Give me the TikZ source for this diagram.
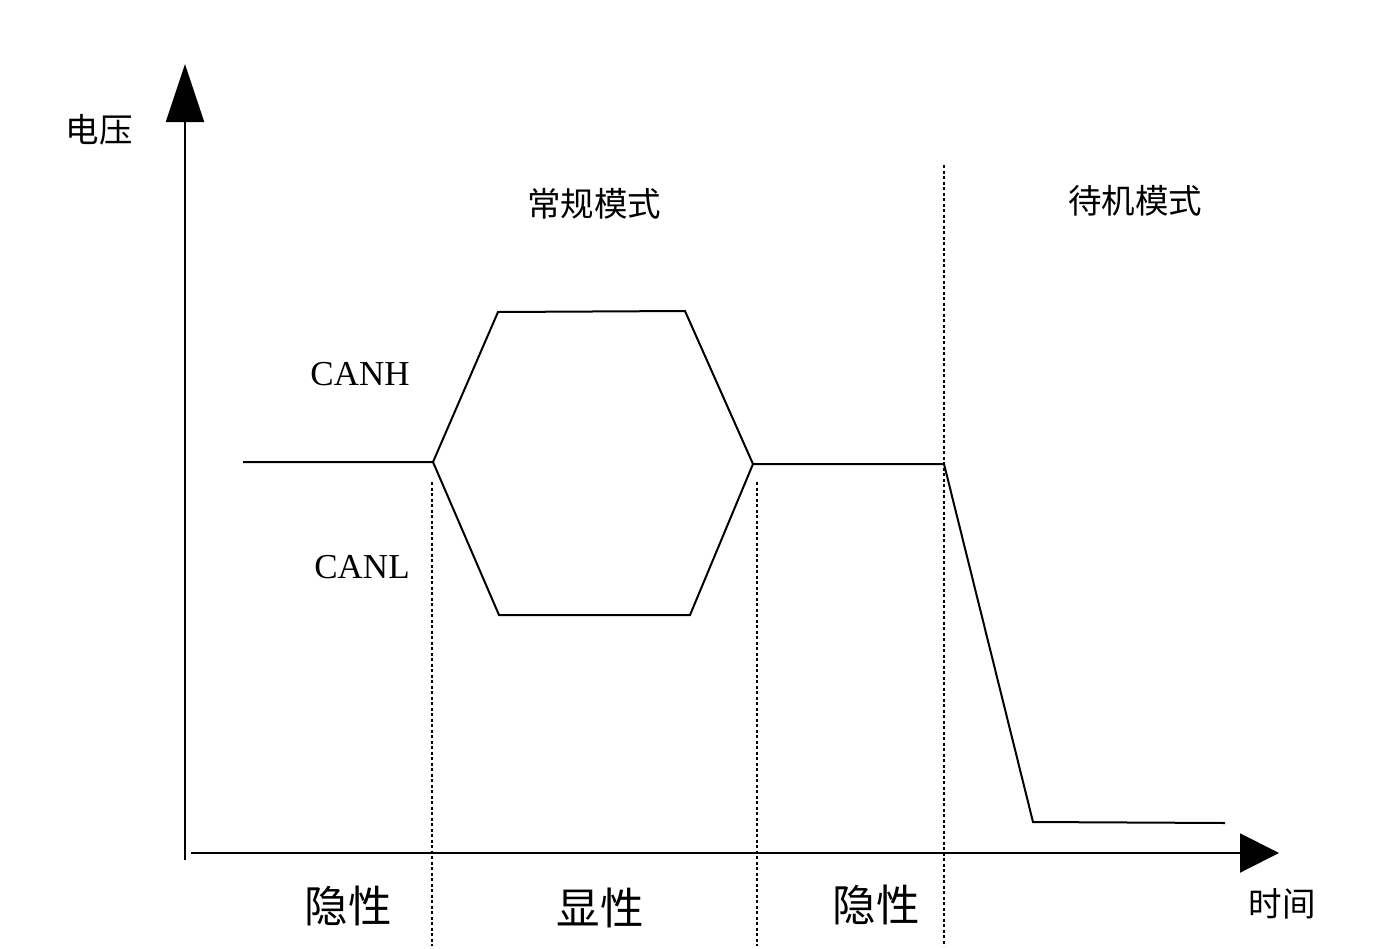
\documentclass[tikz,border=0pt]{standalone}
\usepackage{fontspec}
\setmainfont{Liberation Serif}
\newfontfamily\cjk{Noto Sans CJK SC}[BoldFont={Noto Sans CJK SC}]
\usetikzlibrary{arrows.meta}
\begin{document}
\begin{tikzpicture}[x=1pt,y=-1pt,
  axisline/.style={line width=2pt},
  sigline/.style={line width=2pt, line join=miter},
  sepline/.style={line width=1.6pt, dash pattern=on 3pt off 2.5pt},
  cjklabel/.style={font=\cjk\fontsize{33.5}{36}\selectfont, inner sep=0pt},
  biglabel/.style={font=\cjk\fontsize{43.5}{48}\selectfont, inner sep=0pt},
  canlabel/.style={font=\fontsize{35}{40}\selectfont, inner sep=0pt}]
\useasboundingbox (0,0) rectangle (1379,948);
% axes
\coordinate (yb) at (185,860);
\coordinate (yt) at (185,64);
\coordinate (xl) at (191,853);
\coordinate (xr) at (1279,853);
\draw[axisline, -{Triangle[length=58pt,width=38pt]}] (yb) -- (yt);
\draw[axisline, -{Triangle[length=39pt,width=39pt]}] (xl) -- (xr);
% separators
\coordinate (s1t) at (432,482); \coordinate (s1b) at (432,946);
\coordinate (s2t) at (757,482); \coordinate (s2b) at (757,946);
\coordinate (s3t) at (944,165); \coordinate (s3b) at (944,946);
\draw[sepline] (s1t) -- (s1b);
\draw[sepline] (s2t) -- (s2b);
\draw[sepline] (s3t) -- (s3b);
% signal
\coordinate (p0) at (243,462);
\coordinate (p1) at (433,462);
\coordinate (h1) at (498,312);
\coordinate (h2) at (685,311);
\coordinate (l1) at (499,615);
\coordinate (l2) at (690,615);
\coordinate (p2) at (753,464);
\coordinate (p3) at (944,464);
\coordinate (p4) at (1033,822);
\coordinate (p5) at (1225,823);
\draw[sigline] (p0) -- (p1) -- (h1) -- (h2) -- (p2) -- (p3) -- (p4) -- (p5);
\draw[sigline] (p1) -- (l1) -- (l2) -- (p2);
% labels
\node[cjklabel] (volt) at (99,130) {电压};
\node[cjklabel] (time) at (1282,904) {时间};
\node[cjklabel] (normal) at (594,204) {常规模式};
\node[cjklabel] (standby) at (1135,201) {待机模式};
\node[canlabel] (canh) at (360,374) {CANH};
\node[canlabel] (canl) at (362,567) {CANL};
\node[biglabel] (rec1) at (348,906) {隐性};
\node[biglabel] (dom) at (600,908) {显性};
\node[biglabel] (rec2) at (876,905) {隐性};
\end{tikzpicture}
\end{document}
